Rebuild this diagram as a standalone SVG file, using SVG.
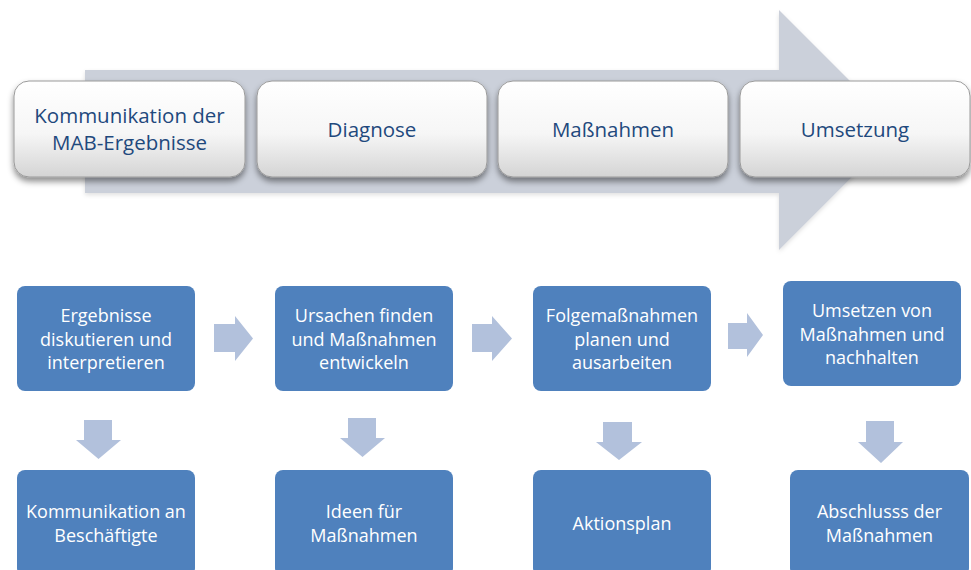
<svg xmlns="http://www.w3.org/2000/svg" width="971" height="570" viewBox="0 0 971 570">
  <defs>
    <linearGradient id="phaseFill" x1="0" y1="0" x2="0" y2="1">
      <stop offset="0" stop-color="#ffffff"/>
      <stop offset="0.55" stop-color="#f6f6f6"/>
      <stop offset="1" stop-color="#d4d4d4"/>
    </linearGradient>
    <filter id="phaseShadow" x="-10%" y="-20%" width="120%" height="150%">
      <feDropShadow dx="0" dy="4" stdDeviation="3" flood-color="#000000" flood-opacity="0.45"/>
    </filter>
    <filter id="bandShadow" x="-5%" y="-10%" width="110%" height="130%">
      <feDropShadow dx="0" dy="2" stdDeviation="2" flood-color="#000000" flood-opacity="0.12"/>
    </filter>
    <style>
      .phase rect { fill: url(#phaseFill); stroke: #9a9a9a; stroke-width: 1; filter: url(#phaseShadow); }
      .phase text { font-family: "Open Sans", "Liberation Sans", sans-serif; font-size: 20.5px; fill: #1f497d; text-anchor: middle; }
      .step rect { fill: #4f81bd; }
      .step text { font-family: "Open Sans", "Liberation Sans", sans-serif; font-size: 18px; fill: #ffffff; text-anchor: middle; }
      .flow path { fill: #b2c1dc; }
    </style>
  </defs>

  <!-- large process arrow behind the phases -->
  <path id="process-arrow" d="M85,70 H779 V10 L899,130 L779,250 V193 H85 Z" fill="#cbd0da" filter="url(#bandShadow)"/>

  <!-- phases -->
  <g id="phase-kommunikation" class="phase">
    <rect x="14" y="81" width="231" height="96" rx="15"/>
    <text x="129.5" y="123">Kommunikation der</text>
    <text x="129.5" y="150">MAB-Ergebnisse</text>
  </g>
  <g id="phase-diagnose" class="phase">
    <rect x="257" y="81" width="230" height="96" rx="15"/>
    <text x="372" y="137">Diagnose</text>
  </g>
  <g id="phase-massnahmen" class="phase">
    <rect x="498" y="81" width="230" height="96" rx="15"/>
    <text x="613" y="137">Maßnahmen</text>
  </g>
  <g id="phase-umsetzung" class="phase">
    <rect x="740" y="81" width="230" height="96" rx="15"/>
    <text x="855" y="137">Umsetzung</text>
  </g>

  <!-- activities -->
  <g id="step-ergebnisse" class="step">
    <rect x="17" y="286" width="178" height="105" rx="8"/>
    <text x="106" y="322">Ergebnisse</text>
    <text x="106" y="345.5">diskutieren und</text>
    <text x="106" y="369">interpretieren</text>
  </g>
  <g id="step-ursachen" class="step">
    <rect x="275" y="286" width="178" height="105" rx="8"/>
    <text x="364" y="322">Ursachen finden</text>
    <text x="364" y="345.5">und Maßnahmen</text>
    <text x="364" y="369">entwickeln</text>
  </g>
  <g id="step-folgemassnahmen" class="step">
    <rect x="533" y="286" width="178" height="105" rx="8"/>
    <text x="622" y="322">Folgemaßnahmen</text>
    <text x="622" y="345.5">planen und</text>
    <text x="622" y="369">ausarbeiten</text>
  </g>
  <g id="step-umsetzen" class="step">
    <rect x="783" y="281" width="178" height="105" rx="8"/>
    <text x="872" y="317">Umsetzen von</text>
    <text x="872" y="340.5">Maßnahmen und</text>
    <text x="872" y="364">nachhalten</text>
  </g>

  <!-- results -->
  <g id="result-kommunikation" class="step">
    <rect x="17" y="470" width="178" height="106" rx="8"/>
    <text x="106" y="518">Kommunikation an</text>
    <text x="106" y="542">Beschäftigte</text>
  </g>
  <g id="result-ideen" class="step">
    <rect x="275" y="470" width="178" height="106" rx="8"/>
    <text x="364" y="518">Ideen für</text>
    <text x="364" y="542">Maßnahmen</text>
  </g>
  <g id="result-aktionsplan" class="step">
    <rect x="533" y="470" width="178" height="106" rx="8"/>
    <text x="622" y="530">Aktionsplan</text>
  </g>
  <g id="result-abschluss" class="step">
    <rect x="790" y="470" width="179" height="106" rx="8"/>
    <text x="879.5" y="518">Abschlusss der</text>
    <text x="879.5" y="542">Maßnahmen</text>
  </g>

  <!-- connectors -->
  <g id="connectors" class="flow">
    <path d="M214,324 H235 V316 L253,338.5 L235,361 V352 H214 Z"/>
    <path d="M472,324 H492 V316 L512,338.5 L492,361 V352 H472 Z"/>
    <path d="M728,323 H747 V313 L763,335 L747,357 V349 H728 Z"/>
    <path d="M84,420 H112 V440 H121 L98.5,459 L76,440 H84 Z"/>
    <path d="M348,418 H376 V438 H385 L362.5,457 L340,438 H348 Z"/>
    <path d="M603,422 H632 V442 H642 L619,460 L596,442 H603 Z"/>
    <path d="M866,421 H894 V442 H903 L881,463 L858,442 H866 Z"/>
  </g>
</svg>
